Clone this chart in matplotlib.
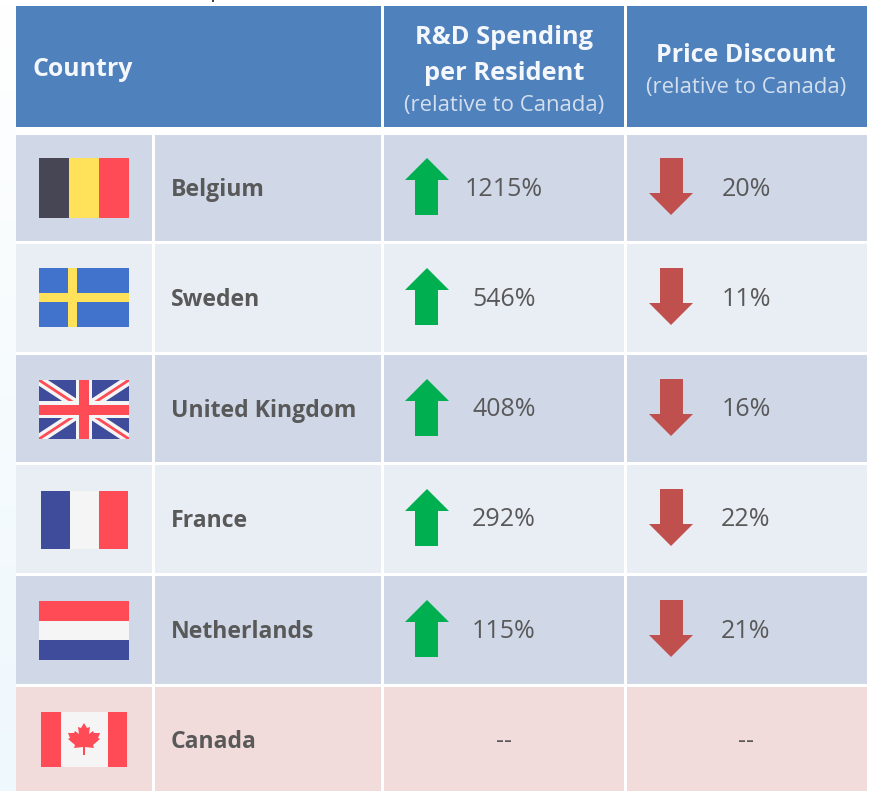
import numpy as np
import matplotlib
matplotlib.use("Agg")
import matplotlib.pyplot as plt
from matplotlib.colors import LinearSegmentedColormap
from matplotlib.patches import Polygon, Rectangle

countries = ["Belgium", "Sweden", "United Kingdom", "France", "Netherlands", "Canada"]
rd_spending = ["1215%", "546%", "408%", "292%", "115%", "--"]
price_discount = ["20%", "11%", "16%", "22%", "21%", "--"]

HEADER = "#4F81BD"
ROW_DARK = "#D0D8E8"
ROW_LIGHT = "#E9EDF4"
ROW_CANADA = "#F2DCDB"
TEXT = "#595959"
RED = "#FF4B55"
NAVY = "#3F4B9B"
WHITE = "#F5F5F5"

plt.rcParams["font.family"] = ["Open Sans", "DejaVu Sans"]

# layout in reference pixels
col_edges = [(16, 152), (155, 381), (384, 624), (627, 867)]
row_edges = [(135, 241), (244, 352), (355, 462), (465, 573), (576, 684), (687, 791)]
row_centers = [187, 297, 408, 518, 629, 739]

fig = plt.figure(figsize=(8.7, 7.91), dpi=100)
ax = fig.add_axes([0, 0, 1, 1])
ax.axis("off")

# pale page left of the table, white at the top and bluer further down
bg = np.linspace(0, 1, 200).reshape(-1, 1)
page = LinearSegmentedColormap.from_list("page", ["#FFFFFF", "#F6FBFD", "#EFF8FD"])
ax.imshow(bg, extent=(0, 16, 791, 0), cmap=page, aspect="auto", zorder=0)
ax.set_xlim(0, 870)
ax.set_ylim(791, 0)


def rect(x0, y0, x1, y1, color, z=2):
    ax.add_patch(Rectangle((x0, y0), x1 - x0, y1 - y0, facecolor=color, edgecolor="none", zorder=z))


def up_arrow(cy):
    pts = [(427, cy - 29), (449, cy - 7), (438, cy - 7), (438, cy + 28),
           (415, cy + 28), (415, cy - 7), (405, cy - 7)]
    ax.add_patch(Polygon(pts, facecolor="#00B050", edgecolor="none", zorder=3))


def down_arrow(cy):
    pts = [(660, cy - 29), (683, cy - 29), (683, cy + 6), (693, cy + 6),
           (671, cy + 28), (649, cy + 6), (660, cy + 6)]
    ax.add_patch(Polygon(pts, facecolor="#C0504D", edgecolor="none", zorder=3))


def flag_belgium(cy):
    for i, c in enumerate(["#464655", "#FFE15A", RED]):
        rect(39 + 30 * i, cy - 29, 69 + 30 * i, cy + 31, c, 3)


def flag_sweden(cy):
    rect(39, cy - 29, 129, cy + 30, "#4173CD", 3)
    rect(68, cy - 29, 77, cy + 30, "#FFE15A", 4)
    rect(39, cy - 4, 129, cy + 5, "#FFE15A", 4)


def flag_uk(cy):
    x0, x1, y0, y1 = 39, 129, cy - 28, cy + 31
    rect(x0, y0, x1, y1, NAVY, 3)
    clip = Rectangle((x0, y0), x1 - x0, y1 - y0, transform=ax.transData)
    for ya, yb in [(y0, y1), (y1, y0)]:
        white, = ax.plot([x0, x1], [ya, yb], color=WHITE, lw=7, solid_capstyle="butt", zorder=4)
        red, = ax.plot([x0, x1], [ya, yb], color=RED, lw=2, solid_capstyle="butt", zorder=5)
        white.set_clip_path(clip)
        red.set_clip_path(clip)
    rect(76, y0, 92, y1, WHITE, 6)
    rect(x0, cy - 7, x1, cy + 10, WHITE, 6)
    rect(79, y0, 89, y1, RED, 7)
    rect(x0, cy - 3, x1, cy + 7, RED, 7)


def flag_france(cy):
    for i, c in enumerate([NAVY, WHITE, RED]):
        rect(41 + 29 * i, cy - 27, 70 + 29 * i, cy + 31, c, 3)


def flag_netherlands(cy):
    for i, c in enumerate([RED, WHITE, NAVY]):
        rect(39, cy - 28 + 19.5 * i, 129, cy - 8.5 + 19.5 * i, c, 3)


def flag_canada(cy):
    rect(41, cy - 27, 61, cy + 28, RED, 3)
    rect(61, cy - 27, 108, cy + 28, WHITE, 3)
    rect(108, cy - 27, 127, cy + 28, RED, 3)
    half = [(0, -16), (3, -11), (6, -12), (5, -5), (9, -8), (10, -6), (16, -6),
            (14, -1), (16, 0), (9, 6), (10, 9), (1, 8), (1, 16)]
    pts = [(84 + x, cy + y) for x, y in half]
    pts += [(84 - x, cy + y) for x, y in reversed(half)]
    ax.add_patch(Polygon(pts, facecolor=RED, edgecolor="none", zorder=4))


flag_funcs = [flag_belgium, flag_sweden, flag_uk, flag_france, flag_netherlands, flag_canada]

# header
rect(16, 6, 381, 127, HEADER)
rect(384, 6, 624, 127, HEADER)
rect(627, 6, 867, 127, HEADER)

hkw = dict(color="#F4F7FB", ha="center", va="center", fontweight="bold", zorder=5)
subkw = dict(color="#D3DFEE", ha="center", va="center", fontsize=15.9, zorder=5)
ax.text(33, 70, "Country", color="#F4F7FB", ha="left", va="center", fontweight="bold", fontsize=17.9, zorder=5)
ax.text(504, 37, "R&D Spending", fontsize=18.3, **hkw)
ax.text(504, 73, "per Resident", fontsize=18.3, **hkw)
ax.text(504, 106, "(relative to Canada)", **subkw)
ax.text(746, 55, "Price Discount", fontsize=18, **hkw)
ax.text(746, 88, "(relative to Canada)", **subkw)

# tail of the cropped title above the table
rect(212.5, 0, 214.5, 2, "#404040", 5)

# body rows
for i, name in enumerate(countries):
    y0, y1 = row_edges[i]
    cy = row_centers[i]
    if name == "Canada":
        fill = ROW_CANADA
    else:
        fill = ROW_DARK if i % 2 == 0 else ROW_LIGHT
    for x0, x1 in col_edges:
        rect(x0, y0, x1, y1, fill)
    flag_funcs[i](cy)
    ax.text(171, cy + 3, name, color=TEXT, ha="left", va="center", fontweight="bold", fontsize=16.6, zorder=5)
    ax.text(504, cy + 2, rd_spending[i], color=TEXT, ha="center", va="center", fontsize=18, zorder=5)
    ax.text(746, cy + 2, price_discount[i], color=TEXT, ha="center", va="center", fontsize=18, zorder=5)
    if name != "Canada":
        up_arrow(cy)
        down_arrow(cy)

fig.savefig("out.png", dpi=100)
